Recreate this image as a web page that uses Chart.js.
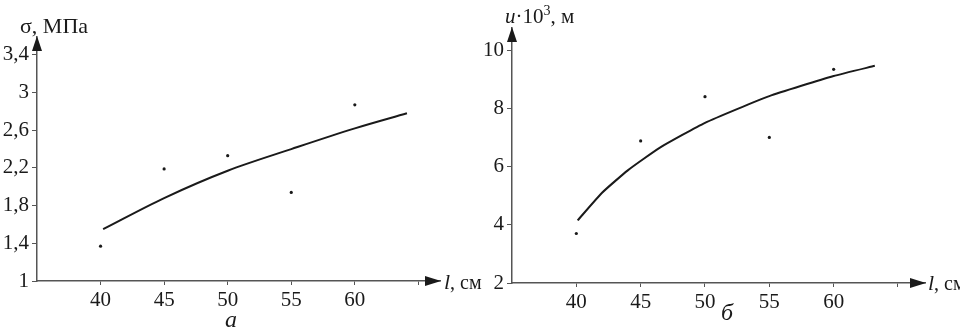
<!DOCTYPE html>
<html><head><meta charset="utf-8">
<script src="https://cdn.jsdelivr.net/npm/chart.js@4.4.1/dist/chart.umd.min.js"></script>
<style>
html,body{margin:0;padding:0;background:#fff;}
#wrap{position:relative;width:960px;height:329px;background:#fff;}
canvas{position:absolute;left:0;top:0;}
</style></head><body>
<div id="wrap"><canvas id="ca" width="960" height="329"></canvas><canvas id="cb" width="960" height="329"></canvas></div>
<script>
// ---- data ----
const lengthsCm = [40, 45, 50, 55, 60];
const xTickValues = [40, 45, 50, 55, 60, 65];
const xTickLabels = ['40', '45', '50', '55', '60', ''];
const stressMeasured = [1.37, 2.19, 2.33, 1.94, 2.87];
const stressFitL = [40.2, 45, 50, 55, 60, 64.1];
const stressFit = [1.55, 1.88, 2.17, 2.40, 2.62, 2.78];
const stressTicks = [1, 1.4, 1.8, 2.2, 2.6, 3, 3.4];
const stressTickLabels = ['1', '1,4', '1,8', '2,2', '2,6', '3', '3,4'];
const dispMeasured = [3.7, 6.88, 8.4, 7.0, 9.34];
const dispFitL = [40.1, 42, 44, 46.5, 50, 55, 60, 63.2];
const dispFit = [4.15, 5.1, 5.87, 6.65, 7.5, 8.42, 9.11, 9.46];
const dispTicks = [2, 4, 6, 8, 10];
const dispTickLabels = ['2', '4', '6', '8', '10'];

const SERIF = "'Liberation Serif', 'DejaVu Serif', serif";
const INK = '#1a1a1a';
const AXIS = '#555';

function pts(xs, ys) { return xs.map((x, i) => ({ x: x, y: ys[i] })); }

function runs(ctx, x, y, parts) {
  let cx = x;
  parts.forEach(p => {
    ctx.font = p.font;
    ctx.fillText(p.t, cx, y + (p.dy || 0));
    cx += ctx.measureText(p.t).width;
  });
}

function decor(drawText) {
  return {
    id: 'decor',
    afterDraw(chart) {
      const ctx = chart.ctx, a = chart.chartArea;
      ctx.save();
      ctx.fillStyle = INK;
      ctx.beginPath();
      ctx.moveTo(a.right + 1, a.bottom);
      ctx.lineTo(a.right - 15, a.bottom - 5);
      ctx.lineTo(a.right - 15, a.bottom + 5);
      ctx.closePath(); ctx.fill();
      ctx.beginPath();
      ctx.moveTo(a.left, a.top - 1);
      ctx.lineTo(a.left - 5, a.top + 14);
      ctx.lineTo(a.left + 5, a.top + 14);
      ctx.closePath(); ctx.fill();
      ctx.textBaseline = 'alphabetic';
      ctx.textAlign = 'left';
      drawText(ctx, a);
      ctx.restore();
    }
  };
}

function makeChart(id, cfg) {
  const tickFont = { family: SERIF, size: 21 };
  return new Chart(document.getElementById(id), {
    type: 'scatter',
    data: {
      datasets: [
        { data: pts(cfg.fitL, cfg.fit), showLine: true, borderColor: INK, borderWidth: 2,
          pointRadius: 0, tension: cfg.tension, cubicInterpolationMode: cfg.cubic ? 'monotone' : 'default', fill: false },
        { data: pts(lengthsCm, cfg.measured), showLine: false, pointRadius: 1.6,
          pointBackgroundColor: INK, pointBorderWidth: 0 }
      ]
    },
    options: {
      responsive: false, animation: false, events: [],
      layout: { padding: cfg.padding },
      plugins: { legend: { display: false }, tooltip: { enabled: false } },
      scales: {
        x: {
          type: 'linear', min: 35, max: cfg.xMax,
          afterBuildTicks: s => { s.ticks = xTickValues.map(v => ({ value: v })); },
          afterFit: s => { s.height = 329 - cfg.bottom; },
          ticks: { font: tickFont, color: INK, padding: 3, maxRotation: 0, autoSkip: false,
                   callback: (v) => xTickLabels[xTickValues.indexOf(v)] },
          grid: { drawOnChartArea: false, drawTicks: true, tickLength: 4, color: AXIS, lineWidth: 1 },
          border: { color: AXIS, width: 1.5 }
        },
        y: {
          type: 'linear', min: cfg.yMin, max: cfg.yMax,
          afterBuildTicks: s => { s.ticks = cfg.yTicks.map(v => ({ value: v })); },
          afterFit: s => { s.width = cfg.left; },
          ticks: { font: tickFont, color: INK, padding: 3, autoSkip: false,
                   callback: (v) => cfg.yLabels[cfg.yTicks.indexOf(v)] },
          grid: { drawOnChartArea: false, drawTicks: true, tickLength: 5, color: AXIS, lineWidth: 1 },
          border: { color: AXIS, width: 1.5 }
        }
      }
    },
    plugins: [decor(cfg.text)]
  });
}

makeChart('ca', {
  fitL: stressFitL, fit: stressFit, measured: stressMeasured, tension: 0.4, cubic: true,
  xMax: 66.7, yMin: 1, yMax: 3.59, yTicks: stressTicks, yLabels: stressTickLabels,
  padding: { left: 0, top: 37, right: 520, bottom: 0 }, left: 37, bottom: 281,
  text: (ctx, a) => {
    ctx.fillStyle = INK;
    runs(ctx, 20, 33, [{ t: 'σ, МПа', font: '22px ' + SERIF }]);
    runs(ctx, 444, 289, [{ t: 'l', font: 'italic 22px ' + SERIF }, { t: ', см', font: '20px ' + SERIF }]);
    ctx.font = 'italic 24px ' + SERIF;
    ctx.textAlign = 'center';
    ctx.fillText('а', 231, 327);
  }
});

makeChart('cb', {
  fitL: dispFitL, fit: dispFit, measured: dispMeasured, tension: 0.15, cubic: false,
  xMax: 67.1, yMin: 2, yMax: 10.76, yTicks: dispTicks, yLabels: dispTickLabels,
  padding: { left: 0, top: 28, right: 35, bottom: 0 }, left: 512, bottom: 283,
  text: (ctx, a) => {
    ctx.fillStyle = INK;
    runs(ctx, 505, 23, [
      { t: 'u', font: 'italic 21px ' + SERIF },
      { t: '·10', font: '21px ' + SERIF },
      { t: '3', font: '14px ' + SERIF, dy: -8 },
      { t: ', м', font: '21px ' + SERIF }
    ]);
    runs(ctx, 928, 290, [{ t: 'l', font: 'italic 22px ' + SERIF }, { t: ', см', font: '20px ' + SERIF }]);
    ctx.font = 'italic 24px ' + SERIF;
    ctx.textAlign = 'center';
    ctx.fillText('б', 727, 320);
  }
});
</script>
</body></html>
